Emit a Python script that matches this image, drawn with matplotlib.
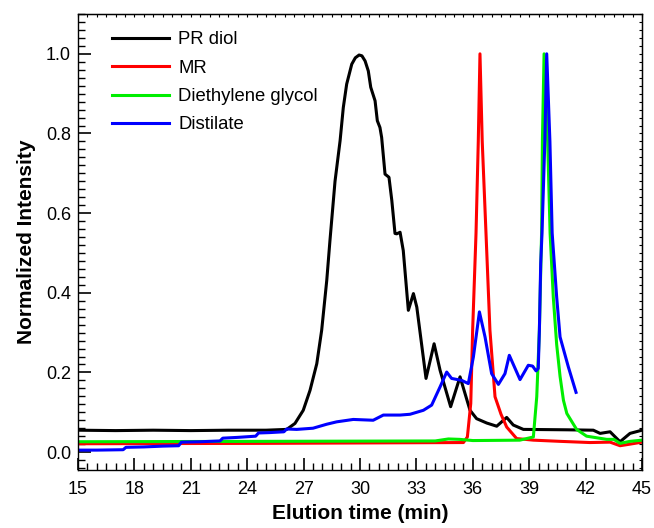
import numpy as np
import matplotlib
matplotlib.use("Agg")
import matplotlib.pyplot as plt
from matplotlib.ticker import MultipleLocator, FormatStrFormatter

plt.rcParams['font.family'] = ['Liberation Sans', 'DejaVu Sans']

# PR diol trace (time in min, normalized intensity)
pr_t = [15.0, 17.0, 19.0, 21.0, 23.0, 25.0, 26.1, 26.54, 26.98, 27.34, 27.7, 27.96,
        28.23, 28.4, 28.67, 28.94, 29.11, 29.29, 29.56, 29.75, 29.95, 30.1, 30.27,
        30.44, 30.57, 30.8, 30.92, 31.06, 31.15, 31.33, 31.54, 31.69, 31.86, 31.95,
        32.13, 32.3, 32.57, 32.84, 33.02, 33.51, 33.94, 34.26, 34.82, 35.32, 35.85,
        36.2, 36.74, 37.27, 37.8, 38.15, 38.69, 41.0, 42.41, 42.77, 43.3, 43.83,
        44.36, 45.0]
pr_y = [0.055, 0.054, 0.055, 0.054, 0.055, 0.055, 0.057, 0.072, 0.105, 0.155, 0.222,
        0.306, 0.431, 0.531, 0.68, 0.782, 0.865, 0.924, 0.974, 0.99, 0.997, 0.995,
        0.982, 0.957, 0.916, 0.882, 0.832, 0.815, 0.79, 0.698, 0.69, 0.632, 0.549,
        0.548, 0.552, 0.506, 0.356, 0.398, 0.364, 0.185, 0.272, 0.205, 0.114, 0.189,
        0.105, 0.084, 0.073, 0.065, 0.087, 0.068, 0.057, 0.056, 0.055, 0.047, 0.051,
        0.026, 0.047, 0.055]

# MR trace
mr_t = [15.0, 25.0, 35.5, 35.71, 35.89, 35.99, 36.17, 36.29, 36.38, 36.5, 36.7,
        36.91, 37.18, 37.5, 37.8, 38.33, 39.22, 40.64, 42.23, 43.3, 43.83, 44.36, 45.0]
mr_y = [0.021, 0.022, 0.024, 0.038, 0.122, 0.306, 0.55, 0.78, 1.0, 0.78, 0.55,
        0.306, 0.139, 0.095, 0.063, 0.034, 0.03, 0.027, 0.024, 0.025, 0.016, 0.02, 0.025]

# Diethylene glycol trace
deg_t = [15.0, 25.0, 34.0, 34.7, 35.3, 36.0, 38.5, 39.22, 39.4, 39.54, 39.66, 39.7,
         39.79, 39.98, 40.11, 40.28, 40.46, 40.64, 40.82, 41.0, 41.35, 41.52, 42.05,
         43.12, 43.5, 43.83, 44.36, 45.0]
deg_y = [0.026, 0.027, 0.028, 0.033, 0.032, 0.029, 0.03, 0.038, 0.139, 0.306, 0.556,
         0.78, 1.0, 0.78, 0.55, 0.389, 0.27, 0.19, 0.13, 0.097, 0.07, 0.057, 0.04,
         0.032, 0.032, 0.022, 0.027, 0.03]

# Distilate trace
dis_t = [15.0, 16.0, 17.4, 17.55, 18.5, 19.5, 20.35, 20.5, 21.5, 22.55, 22.7, 23.5,
         24.45, 24.6, 25.2, 25.95, 26.1, 26.63, 27.5, 28.23, 28.76, 29.64, 30.7, 31.24,
         32.13, 32.66, 33.37, 33.81, 34.26, 34.61, 34.87, 35.41, 35.76, 36.03, 36.35,
         36.65, 37.0, 37.36, 37.71, 37.94, 38.51, 38.95, 39.18, 39.36, 39.48, 39.54,
         39.61, 39.68, 39.83, 39.93, 40.1, 40.22, 40.46, 40.64, 41.08, 41.49]
dis_y = [0.005, 0.005, 0.006, 0.012, 0.013, 0.015, 0.016, 0.025, 0.026, 0.028, 0.035,
         0.037, 0.04, 0.048, 0.049, 0.051, 0.058, 0.057, 0.06, 0.07, 0.076, 0.082,
         0.08, 0.093, 0.093, 0.095, 0.105, 0.118, 0.164, 0.201, 0.185, 0.18, 0.172,
         0.239, 0.352, 0.289, 0.197, 0.17, 0.197, 0.243, 0.182, 0.218, 0.216, 0.204,
         0.21, 0.306, 0.473, 0.55, 0.78, 1.0, 0.78, 0.55, 0.389, 0.289, 0.214, 0.15]

fig = plt.figure(figsize=(6.54, 5.28), dpi=100)
ax = fig.add_axes([0.1193, 0.1098, 0.8624, 0.8637])

ax.plot(pr_t, pr_y, color='black', lw=2.2, label='PR diol')
ax.plot(mr_t, mr_y, color='#ff0000', lw=2.2, label='MR')
ax.plot(deg_t, deg_y, color='#00ee00', lw=2.2, label='Diethylene glycol')
ax.plot(dis_t, dis_y, color='#0000ff', lw=2.2, label='Distilate')

ax.set_xlim(15, 45)
ax.set_ylim(-0.045, 1.1)
ax.xaxis.set_major_locator(MultipleLocator(3))
ax.xaxis.set_minor_locator(MultipleLocator(0.5))
ax.yaxis.set_major_locator(MultipleLocator(0.2))
ax.yaxis.set_minor_locator(MultipleLocator(0.02))
ax.yaxis.set_major_formatter(FormatStrFormatter('%.1f'))
ax.tick_params(which='major', direction='in', length=9, width=1.2, labelsize=13)
ax.tick_params(which='minor', direction='in', length=5, width=1.0)
ax.tick_params(axis='x', which='major', pad=8)
ax.tick_params(axis='y', which='major', pad=5)

# short ticks on the top and right frame
top = ax.secondary_xaxis('top')
top.xaxis.set_major_locator(MultipleLocator(0.5))
top.tick_params(direction='in', length=2.5, width=0.8, labeltop=False)
right = ax.secondary_yaxis('right')
right.yaxis.set_major_locator(MultipleLocator(0.02))
right.tick_params(direction='in', length=2.5, width=0.8, labelright=False)

for sp in ax.spines.values():
    sp.set_linewidth(1.0)

ax.set_xlabel('Elution time (min)', fontsize=15, fontweight='bold', labelpad=4)
ax.set_ylabel('Normalized Intensity', fontsize=15, fontweight='bold', labelpad=7)

ax.legend(loc='upper left', frameon=False, fontsize=13.3, handlelength=3.1,
          handletextpad=0.5, labelspacing=0.62, bbox_to_anchor=(0.03, 0.999))

fig.savefig('out.png', dpi=100)
